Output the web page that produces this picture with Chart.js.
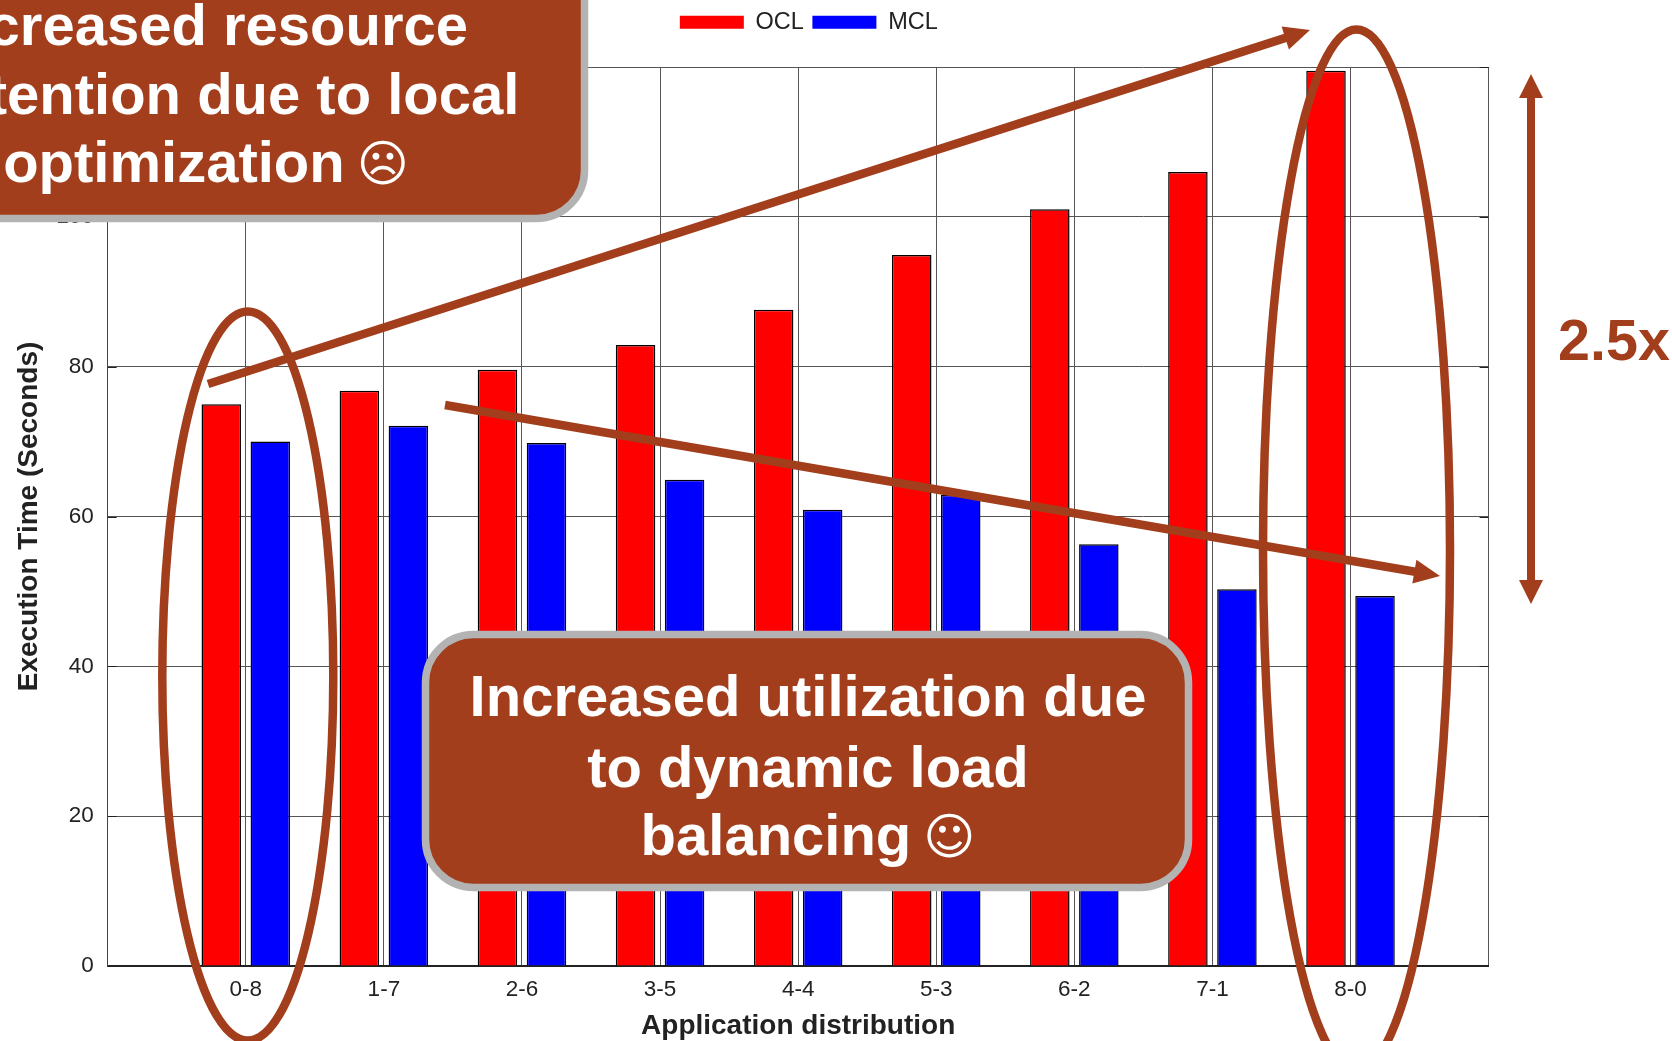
<!DOCTYPE html>
<html>
<head>
<meta charset="utf-8">
<title>Execution time by application distribution</title>
<script src="https://cdn.jsdelivr.net/npm/chart.js@4/dist/chart.umd.min.js"></script>
<style>
    html, body { margin: 0; padding: 0; background: #fff; overflow: hidden; }
    canvas { display: block; }
</style>
</head>
<body>
<canvas id="myChart" width="1672" height="1041"></canvas>
<script>
const categories = ['0-8', '1-7', '2-6', '3-5', '4-4', '5-3', '6-2', '7-1', '8-0'];
const oclValues = [75.0, 76.8, 79.6, 82.9, 87.6, 94.9, 101.0, 106.0, 119.5];
const mclValues = [70.0, 72.1, 69.8, 64.9, 60.9, 62.9, 56.3, 50.3, 49.4];
const yTicks = [0, 20, 40, 60, 80, 100, 120];

const brown = '#a33e1c';
const border = '#b3b3b3';
const textFont = '"Liberation Sans", Arial, sans-serif';

// the x axis runs one empty slot past the first and last group
const xLabels = ['', ...categories, ''];

function arrowHead(ctx, x, y, angle, length, width) {
    ctx.save();
    ctx.translate(x, y);
    ctx.rotate(angle);
    ctx.beginPath();
    ctx.moveTo(0, 0);
    ctx.lineTo(-length, -width / 2);
    ctx.lineTo(-length, width / 2);
    ctx.closePath();
    ctx.fill();
    ctx.restore();
}

function arrow(ctx, x1, y1, x2, y2, lineWidth, length, width, both) {
    const angle = Math.atan2(y2 - y1, x2 - x1);
    const dx = Math.cos(angle) * length * 0.8;
    const dy = Math.sin(angle) * length * 0.8;
    ctx.lineWidth = lineWidth;
    ctx.lineCap = 'butt';
    ctx.beginPath();
    ctx.moveTo(both ? x1 + dx : x1, both ? y1 + dy : y1);
    ctx.lineTo(x2 - dx, y2 - dy);
    ctx.stroke();
    arrowHead(ctx, x2, y2, angle, length, width);
    if (both) {
        arrowHead(ctx, x1, y1, angle + Math.PI, length, width);
    }
}

function callout(ctx, x, y, w, h, lines, face, centerX, lastCenterX, baselines) {
    const bold = 'bold 58px ' + textFont;
    const faceFont = '50px "DejaVu Sans"';
    ctx.beginPath();
    ctx.roundRect(x, y, w, h, 48);
    ctx.fillStyle = brown;
    ctx.fill();
    ctx.lineWidth = 7.5;
    ctx.strokeStyle = border;
    ctx.stroke();
    ctx.fillStyle = '#fff';
    ctx.textBaseline = 'alphabetic';
    ctx.textAlign = 'center';
    ctx.font = bold;
    ctx.fillText(lines[0], centerX, baselines[0]);
    ctx.fillText(lines[1], centerX, baselines[1]);

    // last line ends in a face, which only DejaVu has at a good size
    const gap = 12;
    const textWidth = ctx.measureText(lines[2]).width;
    ctx.font = faceFont;
    const faceWidth = ctx.measureText(face).width;
    const start = lastCenterX - (textWidth + gap + faceWidth) / 2;
    ctx.textAlign = 'left';
    ctx.font = bold;
    ctx.fillText(lines[2], start, baselines[2]);
    ctx.font = faceFont;
    ctx.fillText(face, start + textWidth + gap, baselines[2] - 1);
}

// legend sits over the plot, not over the whole canvas
const placeLegend = {
    id: 'placeLegend',
    afterLayout(chart) {
        const legend = chart.legend;
        const shift = 808.8 - (legend.left + legend.right) / 2;
        legend.left += shift;
        legend.right += shift;
        const lift = legend.top - 2;
        legend.top -= lift;
        legend.bottom -= lift;
    }
};

// gnuplot style inner tick marks
const innerTicks = {
    id: 'innerTicks',
    beforeDatasetsDraw(chart) {
        const { ctx, chartArea, scales } = chart;
        ctx.save();
        ctx.strokeStyle = '#222';
        ctx.lineWidth = 1;
        ctx.beginPath();
        scales.y.ticks.forEach(function (tick) {
            const y = Math.round(scales.y.getPixelForValue(tick.value)) + 0.5;
            ctx.moveTo(chartArea.left, y);
            ctx.lineTo(chartArea.left + 9, y);
            ctx.moveTo(chartArea.right - 9, y);
            ctx.lineTo(chartArea.right, y);
        });
        ctx.stroke();
        ctx.restore();
    }
};

const annotations = {
    id: 'annotations',
    afterDraw(chart) {
        const ctx = chart.ctx;
        const x = chart.scales.x;
        ctx.save();
        ctx.strokeStyle = brown;
        ctx.fillStyle = brown;

        arrow(ctx, 208, 384, 1310, 30, 8.5, 26, 24);
        arrow(ctx, 445, 405, 1440, 576, 8.5, 26, 24);

        ctx.lineWidth = 8.5;
        ctx.beginPath();
        ctx.ellipse(x.getPixelForTick(1) + 2, 676, 85.5, 364.5, 0, 0, Math.PI * 2);
        ctx.stroke();
        ctx.beginPath();
        ctx.ellipse(x.getPixelForTick(9) + 6, 550, 93.5, 520.5, 0, 0, Math.PI * 2);
        ctx.stroke();

        arrow(ctx, 1531, 74, 1531, 604, 8, 24, 24, true);

        ctx.fillStyle = brown;
        ctx.font = 'bold 57.5px ' + textFont;
        ctx.textAlign = 'left';
        ctx.textBaseline = 'alphabetic';
        ctx.fillText('2.5x', 1558, 360);

        callout(ctx, -120, -100, 704.5, 318.5,
            ['Increased resource', 'contention due to local', 'optimization'], '\u2639',
            202, 206, [45, 114, 182]);
        callout(ctx, 425.5, 634.5, 763, 253,
            ['Increased utilization due', 'to dynamic load', 'balancing'], '\u263A',
            808, 808, [716, 787, 855]);
        ctx.restore();
    }
};

const ctx = document.getElementById('myChart').getContext('2d');
const myChart = new Chart(ctx, {
    type: 'bar',
    data: {
        labels: xLabels,
        datasets: [{
            label: 'OCL',
            data: [null, ...oclValues, null],
            backgroundColor: '#ff0000',
            borderColor: '#000000',
            borderWidth: 1.5
        }, {
            label: 'MCL',
            data: [null, ...mclValues, null],
            backgroundColor: '#0000ff',
            borderColor: '#000000',
            borderWidth: 1.5
        }]
    },
    plugins: [placeLegend, innerTicks, annotations],
    options: {
        responsive: false,
        animation: false,
        categoryPercentage: 0.71,
        barPercentage: 0.806,
        layout: {
            padding: { top: 25, right: 183.4, left: 0, bottom: 0 }
        },
        font: { family: textFont },
        scales: {
            x: {
                offset: false,
                afterFit(axis) {
                    axis.height = 75;
                },
                grid: { offset: false, color: '#555555', lineWidth: 1, drawTicks: false },
                border: { color: '#222222', width: 2 },
                ticks: {
                    autoSkip: false,
                    maxRotation: 0,
                    padding: 10,
                    color: '#222222',
                    font: { family: textFont, size: 22.5 }
                },
                title: {
                    display: true,
                    text: 'Application distribution',
                    color: '#222222',
                    padding: { top: 0, bottom: -2 },
                    font: { family: textFont, size: 28, weight: 'bold' }
                }
            },
            y: {
                min: 0,
                max: 120,
                afterFit(axis) {
                    axis.width = 107.7;
                },
                afterBuildTicks(axis) {
                    axis.ticks = yTicks.map(function (value) {
                        return { value: value };
                    });
                },
                grid: { color: '#555555', lineWidth: 1, drawTicks: false },
                border: { color: '#444444', width: 1 },
                ticks: {
                    padding: 14,
                    color: '#222222',
                    font: { family: textFont, size: 22.5 }
                },
                title: {
                    display: true,
                    text: 'Execution Time (Seconds)',
                    color: '#222222',
                    padding: { top: 12, bottom: 0 },
                    font: { family: textFont, size: 28, weight: 'bold' }
                }
            }
        },
        plugins: {
            title: { display: false },
            tooltip: { enabled: false },
            legend: {
                display: true,
                position: 'top',
                labels: {
                    boxWidth: 64,
                    boxHeight: 13,
                    padding: 8.5,
                    color: '#222222',
                    font: { family: textFont, size: 23.5 },
                    generateLabels(chart) {
                        return Chart.defaults.plugins.legend.labels.generateLabels(chart).map(function (item) {
                            item.lineWidth = 0;
                            return item;
                        });
                    }
                }
            }
        }
    }
});
</script>
</body>
</html>
